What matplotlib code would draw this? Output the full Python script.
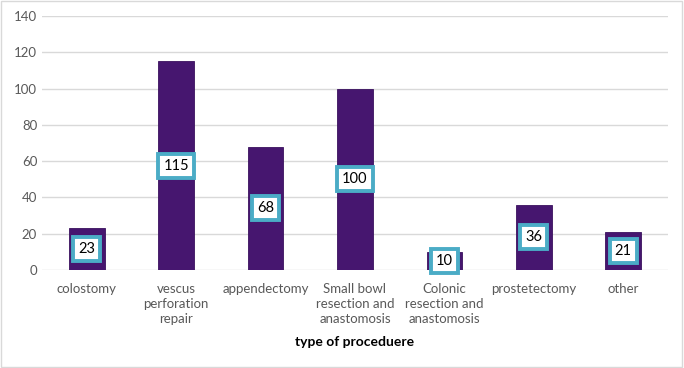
import matplotlib.pyplot as plt
from matplotlib.patches import Rectangle

categories = ['colostomy', 'vescus\nperforation\nrepair', 'appendectomy',
              'Small bowl\nresection and\nanastomosis', 'Colonic\nresection and\nanastomosis',
              'prostetectomy', 'other']
counts = [23, 115, 68, 100, 10, 36, 21]
yticks = [0, 20, 40, 60, 80, 100, 120, 140]

plt.rcParams['font.family'] = ['Lato', 'DejaVu Sans']

fig = plt.figure(figsize=(6.84, 3.68), dpi=100)
ax = fig.add_axes([0.0614, 0.2663, 0.9152, 0.6902])

x = range(len(categories))
bars = ax.bar(x, counts, width=0.4, color='#46166f', edgecolor='#3a115e', linewidth=0.6, zorder=3)

for rect, v in zip(bars, counts):
    ax.text(rect.get_x() + rect.get_width() / 2, v / 2, str(v),
            ha='center', va='center', fontsize=10.5, color='black', zorder=4,
            bbox=dict(boxstyle='square,pad=0.35', facecolor='white',
                      edgecolor='#4bacc6', linewidth=2.8))

ax.set_xlim(-0.5, len(categories) - 0.5)
ax.set_ylim(0, 140)
ax.set_yticks(yticks)
ax.set_xticks(list(x))
ax.set_xticklabels(categories, linespacing=1.3)
ax.tick_params(axis='both', length=0, colors='#595959', labelsize=9.5)
ax.tick_params(axis='x', pad=9)
ax.grid(axis='y', color='#d9d9d9', linewidth=1, zorder=0)
for s in ax.spines.values():
    s.set_visible(False)

ax.set_xlabel('type of proceduere', fontweight='bold', fontsize=10, color='black', labelpad=8)

fig.patches.append(Rectangle((0.002, 0.003), 0.995, 0.993, transform=fig.transFigure,
                             fill=False, edgecolor='#d9d9d9', linewidth=1))

fig.savefig('out.png', dpi=100)
